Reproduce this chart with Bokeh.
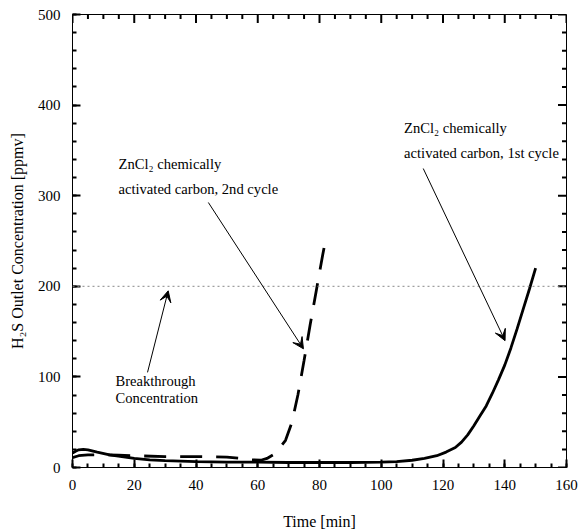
from bokeh.plotting import figure
from bokeh.models import (SingleIntervalTicker, Range1d, Arrow, VeeHead, Span)
from bokeh.core.properties import value
from bokeh.embed import file_html
from bokeh.resources import INLINE

# ---- data ----
t_first = [0, 1, 2, 3.5, 5, 8, 12, 16, 20, 25, 30, 40, 50, 60, 70, 80, 90, 100, 105, 110,
           114, 118, 121, 124, 126, 128, 130, 132, 134, 136, 138, 140, 142, 144, 146, 148, 150]
c_first = [16, 18, 19.5, 20, 19.5, 17, 14, 12, 10, 8.5, 7.5, 6.5, 6, 6, 5.5, 5.5, 5.5, 6, 6.5, 8,
           10, 13, 17, 22, 28, 36, 46, 57, 68, 82, 97, 113, 132, 153, 175, 197, 220]

t_second = [0, 2, 5, 10, 15, 20, 30, 40, 50, 55, 58, 61, 63, 65, 67, 69, 71, 73, 75, 77, 79, 81, 82]
c_second = [11, 13, 14, 14, 13.5, 13, 12, 12, 11.5, 10, 8.5, 8, 10, 14, 21, 30, 49, 80, 118, 158, 196, 234, 252]

breakthrough = 200

X_MIN, X_MAX, X_MAJOR, X_MINOR = 0.0, 160.0, 20, 5
Y_MIN, Y_MAX, Y_MAJOR, Y_MINOR = 0.0, 500.0, 100, 20

FONT = "Liberation Serif"
FW, FH = 494, 453
TICK_W = 2

p = figure(frame_width=FW, frame_height=FH, output_backend="svg", toolbar_location=None,
           x_range=Range1d(X_MIN, X_MAX), y_range=Range1d(Y_MIN, Y_MAX),
           min_border_left=72, min_border_right=14, min_border_top=14, min_border_bottom=65,
           x_axis_label="Time [min]", y_axis_label="H₂S Outlet Concentration [ppmv]")
p.background_fill_color = "white"
p.border_fill_color = "white"
p.grid.visible = False
p.outline_line_color = "black"
p.outline_line_width = 1

p.xaxis.ticker = SingleIntervalTicker(interval=X_MAJOR, num_minor_ticks=4)
p.yaxis.ticker = SingleIntervalTicker(interval=Y_MAJOR, num_minor_ticks=5)

for ax in list(p.xaxis) + list(p.yaxis):
    ax.major_tick_in = 8
    ax.major_tick_out = 0
    ax.minor_tick_in = 4
    ax.minor_tick_out = 0
    ax.major_tick_line_color = "black"
    ax.minor_tick_line_color = "black"
    ax.major_tick_line_width = TICK_W
    ax.minor_tick_line_width = TICK_W
    ax.axis_line_color = "black"
    ax.major_label_text_font = FONT
    ax.major_label_text_font_size = "15px"
    ax.major_label_text_color = "black"
    ax.axis_label_text_font = FONT
    ax.axis_label_text_font_size = "16px"
    ax.axis_label_text_font_style = "normal"
    ax.axis_label_text_color = "black"
    ax.major_label_standoff = 12
p.xaxis.axis_label_standoff = 20
p.yaxis.major_label_text_baseline = "top"
p.yaxis.axis_label_standoff = 9

# inward ticks on the top and right edges (lengths converted from pixels to data units)
def px_x(n):
    return n * (X_MAX - X_MIN) / FW

def px_y(n):
    return n * (Y_MAX - Y_MIN) / FH

MAJ_LEN, MIN_LEN = 8, 4
xmaj = [float(v) for v in range(int(X_MIN), int(X_MAX) + 1, X_MAJOR)]
xmin_ = [float(v) for v in range(int(X_MIN), int(X_MAX) + 1, X_MINOR) if v % X_MAJOR]
ymaj = [float(v) for v in range(int(Y_MIN), int(Y_MAX) + 1, Y_MAJOR)]
ymin_ = [float(v) for v in range(int(Y_MIN), int(Y_MAX) + 1, Y_MINOR) if v % Y_MAJOR]

xs_list, ys_list = [], []
for ticks, L in ((xmaj, MAJ_LEN), (xmin_, MIN_LEN)):
    for v in ticks:
        xs_list.append([v, v]); ys_list.append([Y_MAX, Y_MAX - px_y(L + 0.5)])
for ticks, L in ((ymaj, MAJ_LEN), (ymin_, MIN_LEN)):
    for v in ticks:
        ys_list.append([v, v]); xs_list.append([X_MAX, X_MAX - px_x(L + 0.5)])
p.multi_line(xs=xs_list, ys=ys_list, line_color="black", line_width=TICK_W)

# breakthrough line
p.add_layout(Span(location=breakthrough, dimension="width", line_color="#888888",
                  line_dash="2 3", line_width=1))

p.line(t_first, c_first, line_color="black", line_width=2.8)
p.line(t_second, c_second, line_color="black", line_width=2.8, line_dash="22 14")

# annotations
txt_x = [14.9, 14.9, 107.4, 107.4, 13.9, 13.9]
txt_y = [335, 307, 375, 347, 96, 76.5]
txt = ["ZnCl₂ chemically", "activated carbon, 2nd cycle",
       "ZnCl₂ chemically", "activated carbon, 1st cycle",
       "Breakthrough", "Concentration"]
p.text(txt_x, txt_y, text=txt, text_font=value(FONT), text_font_size="14.6px",
       text_color="black", text_baseline="alphabetic", text_align="left")

arrows = [(44, 292.5, 74.8, 131), (113.6, 330, 140.1, 140), (24.3, 105, 31, 195)]
for xs, ys, xe, ye in arrows:
    p.add_layout(Arrow(end=VeeHead(size=11, fill_color="black", line_color="black", line_width=1),
                       x_start=xs, y_start=ys, x_end=xe, y_end=ye,
                       line_color="black", line_width=1))

open("out.html", "w").write(file_html(p, INLINE))
